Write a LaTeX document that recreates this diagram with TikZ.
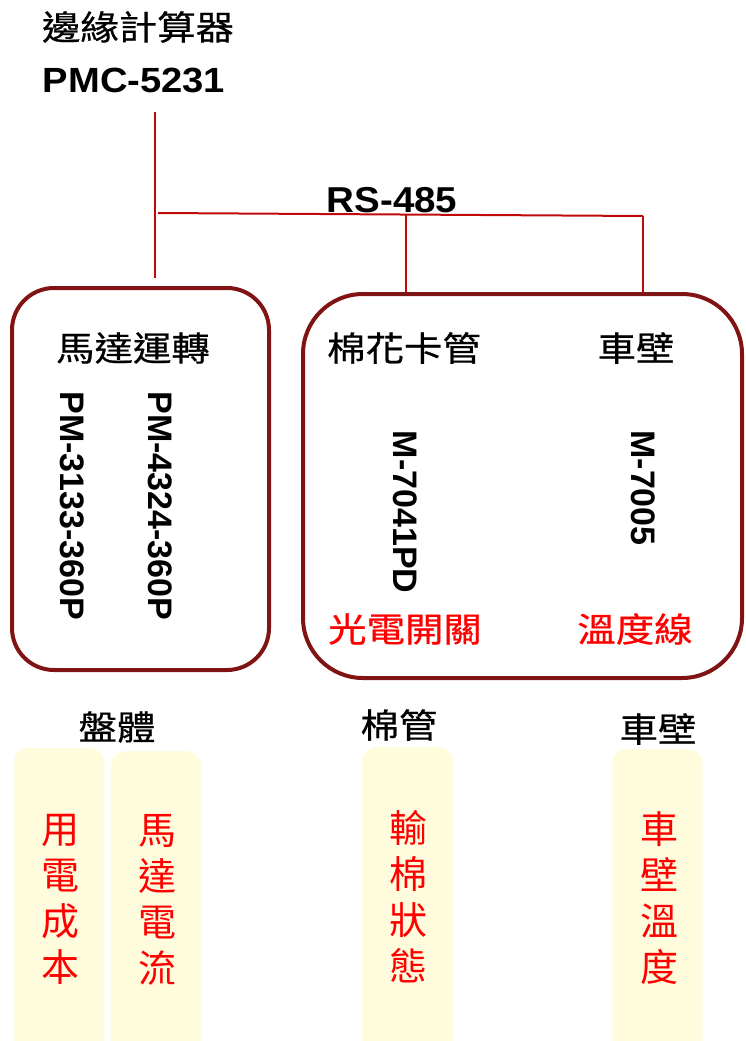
\documentclass[tikz,border=0pt]{standalone}
\usepackage{fontspec}
\usepackage{graphicx}
\setmainfont{Liberation Sans}
\newfontfamily\cjk{Noto Sans CJK TC}
\newfontfamily\cjkmed[FakeBold=0.6]{Noto Sans CJK TC}
\definecolor{boxred}{RGB}{128,20,20}
\definecolor{wirered}{RGB}{192,10,10}
\definecolor{paleyellow}{RGB}{255,252,222}
\definecolor{txtred}{RGB}{255,0,0}
\begin{document}
\begin{tikzpicture}[x=1pt,y=-1pt,
  cjklabel/.style={font=\cjkmed\fontsize{34}{40}\selectfont, inner sep=0pt, xscale=1.13},
  cjkred/.style={cjklabel, text=txtred},
  model/.style={font=\bfseries\fontsize{34}{40}\selectfont, inner sep=0pt, rotate=-90},
  group/.style={draw=boxred, line width=4pt, rounded corners=#1, inner sep=0pt},
  wire/.style={draw=wirered, line width=2pt},
  col/.style={fill=paleyellow, rounded corners=15pt, inner sep=0pt, minimum width=91pt, minimum height=322pt, anchor=north},
  coltext/.style={font=\cjk\fontsize{38}{46}\selectfont, text=txtred, align=center, inner sep=0pt}
]
\useasboundingbox (0,0) rectangle (746,1041);
\clip (0,0) rectangle (746,1041);

% title
\node[cjklabel] (edge) at (138,27) {邊緣計算器};
\node[font=\bfseries\fontsize{35}{40}\selectfont, inner sep=0pt, xscale=1.09] (pmc) at (134,80) {PMC-5231};

% bus wiring
\coordinate (dropTop) at (155,112);
\coordinate (dropBot) at (155,278);
\coordinate (busL) at (158,213);
\coordinate (busM) at (406,214.5);
\coordinate (busR) at (643,216);

% group boxes
\node[group=42pt, minimum width=257pt, minimum height=382pt] (motor) at (140.5,479) {};
\node[group=60pt, minimum width=439pt, minimum height=384pt] (sensor) at (522.5,486) {};

\draw[wire] (dropTop) -- (dropBot);
\draw[wire] (busL) -- (busR);
\draw[wire] (busM) -- (busM |- sensor.north);
\draw[wire] (busR) -- (busR |- sensor.north);

\node[font=\bfseries\fontsize{36}{40}\selectfont, inner sep=0pt, xscale=1.07] (rs) at (392,200) {RS-485};

% motor group
\node[cjklabel] (motorlbl) at (133,348) {馬達運轉};
\node[model] (pmA) at (160,506) {PM-4324-360P};
\node[model] (pmB) at (72,506) {PM-3133-360P};

% sensor group
\node[cjklabel] (cotton) at (404,348) {棉花卡管};
\node[cjklabel] (wall) at (636,348) {車壁};
\node[model] (mA) at (405,512) {M-7041PD};
\node[model] (mB) at (643,488) {M-7005};
\node[cjkred] (photo) at (405,629) {光電開關};
\node[cjkred] (temp) at (635,629) {溫度線};

% bottom labels
\node[cjklabel] (panlbl) at (117,727) {盤體};
\node[cjklabel] (tubelbl) at (399,725) {棉管};
\node[cjklabel] (walllbl) at (658,729) {車壁};

% yellow columns
\node[col] (c1) at (59,748) {};
\node[col] (c2) at (156,751) {};
\node[col] (c3) at (407.5,747) {};
\node[col] (c4) at (657,749) {};

\node[coltext] (t1) at (60,899) {用\\電\\成\\本};
\node[coltext] (t2) at (157,900) {馬\\達\\電\\流};
\node[coltext] (t3) at (408,897) {輸\\棉\\狀\\態};
\node[coltext] (t4) at (659,898) {車\\壁\\溫\\度};
\end{tikzpicture}
\end{document}
